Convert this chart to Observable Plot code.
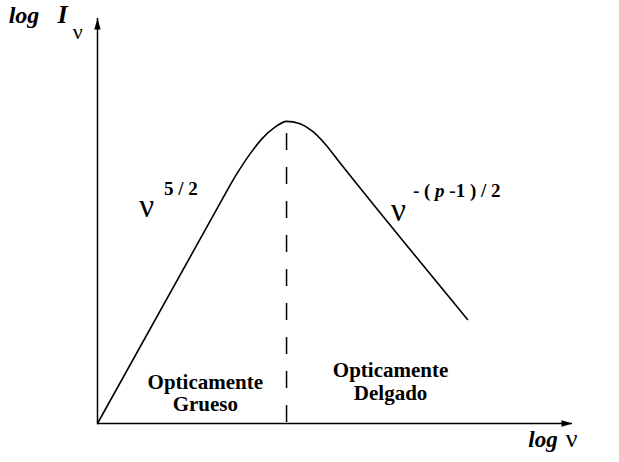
<!DOCTYPE html>
<html>
<head>
<meta charset="utf-8">
<script src="https://cdn.jsdelivr.net/npm/d3@7"></script>
<script src="https://cdn.jsdelivr.net/npm/@observablehq/plot@0.6"></script>
<style>
  html, body { margin: 0; padding: 0; background: #fff; }
  #chart { width: 619px; height: 462px; }
</style>
</head>
<body>
<div id="chart"></div>
<script>
// Schematic synchrotron spectrum (log–log): optically thick rise ν^{5/2},
// turnover, then optically thin fall ν^{-(p-1)/2}.
const logNu = [0, 2.59, 2.9, 3.22, 3.47, 3.73, 3.98, 4.25, 4.53, 4.8, 5.07, 7.79];
const logI  = [0, 5.46, 6.1, 6.67, 7.04, 7.31, 7.46, 7.41, 7.21, 6.89, 6.49, 2.57];

// turnover frequency (dashed divider) and the top of that divider
const peakLogNu = 3.98;
const dividerTop = 7.16;

// axis extent (both axes run 0 → axisMax and end in an arrowhead)
const axisMax = 10;

const spectrum = logNu.map((x, i) => ({x, y: logI[i]}));

// narrow filled arrowhead, tip at the anchor point, pointing up
const arrowHead = {
  draw(ctx) {
    ctx.moveTo(0, 0);
    ctx.lineTo(3.2, 11);
    ctx.lineTo(-3.2, 11);
    ctx.closePath();
  }
};

const serif = "'Liberation Serif', 'Times New Roman', serif";

const note = (text, x, y, opts = {}) =>
  Plot.text([{text, x, y}], {
    x: "x", y: "y", text: "text",
    fill: "black", lineAnchor: "bottom", textAnchor: "start",
    fontWeight: "bold", ...opts
  });

const chart = Plot.plot({
  width: 619,
  height: 462,
  marginLeft: 97,
  marginRight: 47,
  marginTop: 18,
  marginBottom: 39,
  x: {domain: [0, axisMax], axis: null},
  y: {domain: [0, axisMax], axis: null},
  style: {fontFamily: serif, background: "white", color: "black", overflow: "visible"},
  marks: [
    // axes with arrowheads
    Plot.ruleX([0], {y1: 0, y2: axisMax, stroke: "black", strokeWidth: 1.5}),
    Plot.ruleY([0], {x1: 0, x2: axisMax, stroke: "black", strokeWidth: 1.5}),
    Plot.dot([{x: 0, y: axisMax}], {x: "x", y: "y", symbol: arrowHead, fill: "black", stroke: "none"}),
    Plot.dot([{x: axisMax, y: 0}], {x: "x", y: "y", symbol: arrowHead, rotate: 90, fill: "black", stroke: "none"}),

    // dashed divider at the turnover
    Plot.ruleX([peakLogNu], {y1: dividerTop, y2: 0, stroke: "black", strokeWidth: 1.5, strokeDasharray: "17,17"}),

    // the spectrum
    Plot.line(spectrum, {x: "x", y: "y", curve: "monotone-x", stroke: "black", strokeWidth: 1.6}),

    // axis titles
    note("log", -1.87, 9.9, {fontStyle: "italic", fontSize: 24}),
    note("I", -0.84, 9.9, {fontStyle: "italic", fontSize: 26}),
    note("ν", -0.52, 9.5, {fontWeight: "normal", fontSize: 22}),
    note("log", 9.07, -0.59, {fontStyle: "italic", fontSize: 23}),
    note("ν", 9.86, -0.59, {fontWeight: "normal", fontSize: 26}),

    // slope labels
    note("ν", 0.88, 5.11, {fontWeight: "normal", fontSize: 33}),
    note("5 / 2", 1.4, 5.65, {fontSize: 19}),
    note("ν", 6.18, 4.99, {fontWeight: "normal", fontSize: 33}),
    note("-(p-1)/2", 6.64, 5.6, {fontSize: 19}),

    // regime labels
    note("Opticamente", 2.27, 0.86, {textAnchor: "middle", fontSize: 21}),
    note("Grueso", 2.27, 0.32, {textAnchor: "middle", fontSize: 21}),
    note("Opticamente", 6.17, 1.16, {textAnchor: "middle", fontSize: 21}),
    note("Delgado", 6.17, 0.57, {textAnchor: "middle", fontSize: 21})
  ]
});

// set the italic p inside the optically-thin exponent
d3.select(chart).selectAll("text").filter(function () {
  return this.textContent === "-(p-1)/2";
}).each(function () {
  const t = d3.select(this);
  t.text(null);
  t.append("tspan").attr("xml:space", "preserve").text("- ( ");
  t.append("tspan").attr("font-style", "italic").text("p");
  t.append("tspan").attr("xml:space", "preserve").text(" -1 ) / 2");
});

document.getElementById("chart").appendChild(chart);
</script>
</body>
</html>
